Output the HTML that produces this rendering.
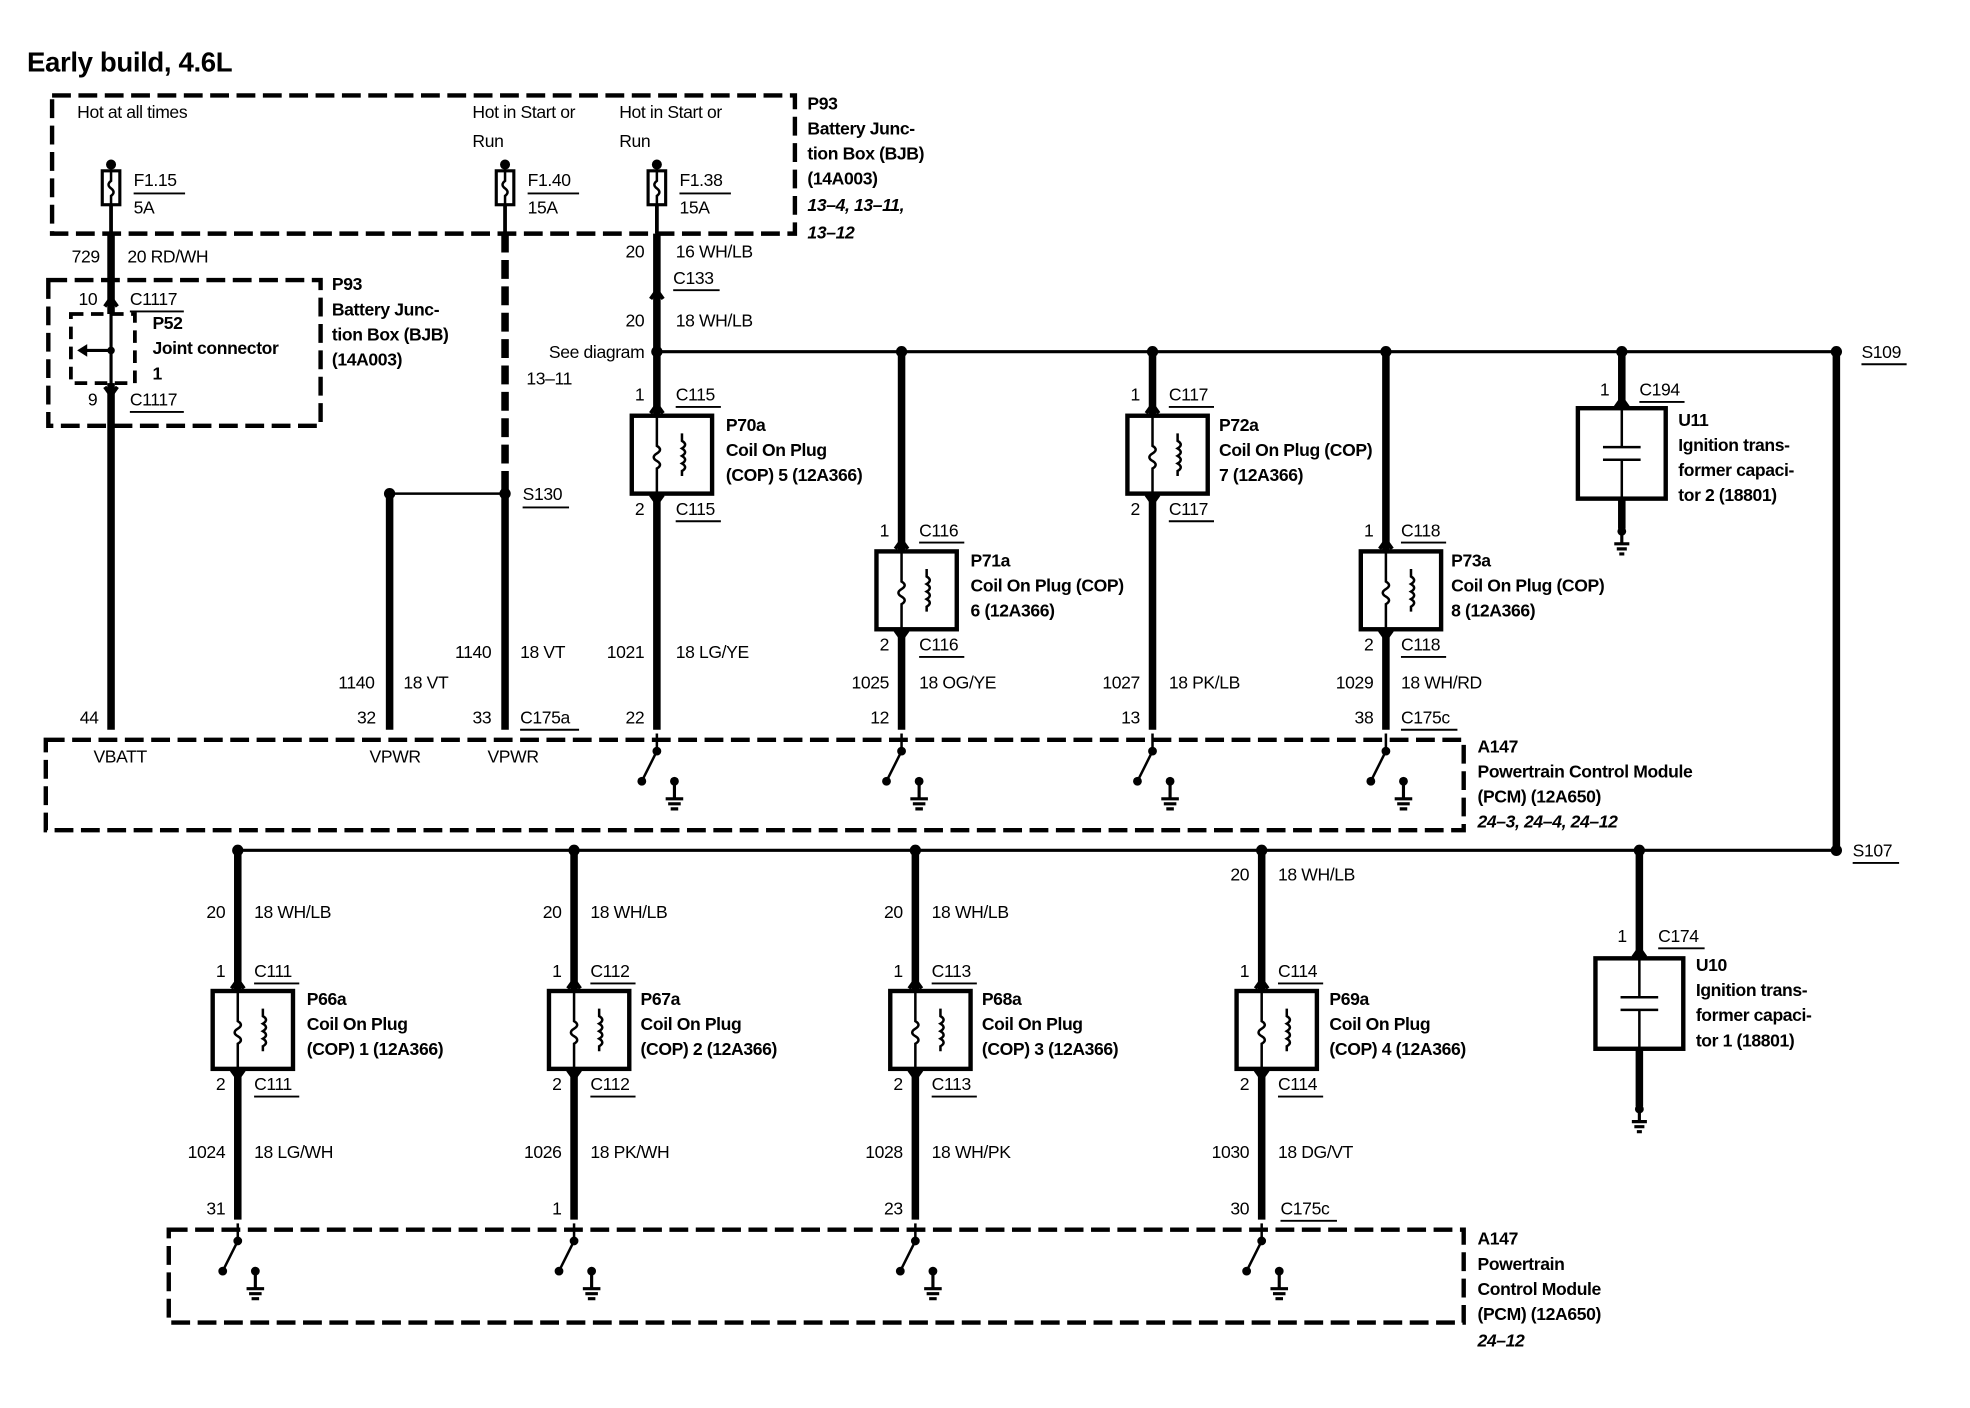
<!DOCTYPE html>
<html><head><meta charset="utf-8"><style>
html,body{margin:0;padding:0;background:#fff;}
svg{display:block;}
text{font-family:"Liberation Sans",Arial,sans-serif;font-size:14px;letter-spacing:-0.3px;fill:#000;}
.b{font-weight:bold;}
.i{font-weight:bold;font-style:italic;}
.r{text-anchor:end;}
</style></head><body>
<svg width="1970" height="1408" viewBox="-1.5 -1 1570 1121" preserveAspectRatio="none" xmlns="http://www.w3.org/2000/svg">
<defs>
<g id="cop">
 <rect x="-20" y="0" width="64" height="62" fill="#fff" stroke="#000" stroke-width="3.5"/>
 <path d="M0 0 V24 q5 3 0 6 q-5 3 0 6 q5 3 0 6 V62" fill="none" stroke="#000" stroke-width="2"/>
 <path d="M20 14 V20 q5 3 0 6 q5 3 0 6 q5 3 0 6 q5 3 0 6 V48" fill="none" stroke="#000" stroke-width="2"/>
</g>
<g id="cap">
 <rect x="-35" y="0" width="70" height="72" fill="#fff" stroke="#000" stroke-width="3.5"/>
 <path d="M0 0 V31 M-15 31 H15 M-15 41 H15 M0 41 V72" fill="none" stroke="#000" stroke-width="2"/>
</g>
<g id="gnd">
 <circle cx="0" cy="0" r="3.5"/>
 <path d="M0 0 V10 M-6 10 H6 M-4 14 H4 M-2 18 H2" fill="none" stroke="#000" stroke-width="2.5"/>
</g>
<g id="sw">
 <path d="M0 0 V14 L-12 38" fill="none" stroke="#000" stroke-width="2"/>
 <circle cx="0" cy="14" r="3.5"/><circle cx="-12" cy="38" r="3.5"/>
 <circle cx="14" cy="38" r="3.5"/>
 <path d="M14 38 V52 M7 52 H21 M9 56 H19 M11 60 H17" fill="none" stroke="#000" stroke-width="2.5"/>
</g>
<path id="up" d="M-5 5 L0 -2 L5 5" fill="none" stroke="#000" stroke-width="3"/>
<path id="dn" d="M-5 -5 L0 2 L5 -5" fill="none" stroke="#000" stroke-width="3"/>
<g id="fuse">
 <circle cx="0" cy="-5" r="4"/>
 <rect x="-7" y="0" width="14" height="27" fill="#fff" stroke="#000" stroke-width="2.5"/>
 <path d="M0 -5 V8 q-4 3 0 6 q4 3 0 6 V27" fill="none" stroke="#000" stroke-width="2"/>
</g>
</defs>

<text x="20" y="56" class="b" style="font-size:22px">Early build, 4.6L</text>

<rect x="40" y="75" width="592" height="110" fill="none" stroke="#000" stroke-width="3.5" stroke-dasharray="15 6"/>
<text x="60" y="93">Hot at all times</text>
<text x="375" y="93">Hot in Start or</text><text x="375" y="116">Run</text>
<text x="492" y="93">Hot in Start or</text><text x="492" y="116">Run</text>
<text x="642" y="86" class="b">P93</text>
<text x="642" y="106" class="b">Battery Junc-</text>
<text x="642" y="126" class="b">tion Box (BJB)</text>
<text x="642" y="146" class="b">(14A003)</text>
<text x="642" y="167" class="i">13–4, 13–11,</text>
<text x="642" y="189" class="i">13–12</text>

<use href="#fuse" x="87" y="135"/><use href="#fuse" x="401" y="135"/><use href="#fuse" x="522" y="135"/>
<text x="105" y="147">F1.15</text><line x1="105" y1="153" x2="146" y2="153" stroke="#000" stroke-width="1.5"/><text x="105" y="169">5A</text>
<text x="419" y="147">F1.40</text><line x1="419" y1="153" x2="460" y2="153" stroke="#000" stroke-width="1.5"/><text x="419" y="169">15A</text>
<text x="540" y="147">F1.38</text><line x1="540" y1="153" x2="581" y2="153" stroke="#000" stroke-width="1.5"/><text x="540" y="169">15A</text>

<line x1="87" y1="162" x2="87" y2="185" stroke="#000" stroke-width="3"/>
<line x1="87" y1="185" x2="87" y2="580" stroke="#000" stroke-width="6"/>
<text x="78" y="208" class="r">729</text><text x="100" y="208">20 RD/WH</text>
<rect x="37" y="222" width="217" height="116" fill="none" stroke="#000" stroke-width="3.5" stroke-dasharray="15 6"/>
<rect x="55" y="249" width="51" height="55" fill="#fff" stroke="#000" stroke-width="3" stroke-dasharray="10 6"/>
<line x1="87" y1="236" x2="87" y2="320" stroke="#000" stroke-width="2.5"/>
<use href="#up" x="87" y="238"/><use href="#dn" x="87" y="312"/>
<line x1="87" y1="278" x2="66" y2="278" stroke="#000" stroke-width="2.5"/>
<path d="M60 278 L68 273 L68 283 Z"/><circle cx="87" cy="278" r="3"/>
<text x="76" y="242" class="r">10</text><text x="102" y="242">C1117</text><line x1="102" y1="247" x2="145" y2="247" stroke="#000" stroke-width="1.5"/>
<text x="120" y="261" class="b">P52</text><text x="120" y="281" class="b">Joint connector</text><text x="120" y="301" class="b">1</text>
<text x="76" y="322" class="r">9</text><text x="102" y="322">C1117</text><line x1="102" y1="327" x2="145" y2="327" stroke="#000" stroke-width="1.5"/>
<text x="263" y="230" class="b">P93</text><text x="263" y="250" class="b">Battery Junc-</text><text x="263" y="270" class="b">tion Box (BJB)</text><text x="263" y="290" class="b">(14A003)</text>

<line x1="401" y1="162" x2="401" y2="185" stroke="#000" stroke-width="3"/>
<line x1="401" y1="185" x2="401" y2="390" stroke="#000" stroke-width="6" stroke-dasharray="15 6"/>
<line x1="401" y1="392" x2="401" y2="580" stroke="#000" stroke-width="6"/>
<line x1="309" y1="392" x2="401" y2="392" stroke="#000" stroke-width="2"/>
<circle cx="401" cy="392" r="4.5"/><circle cx="309" cy="392" r="4.5"/>
<line x1="309" y1="392" x2="309" y2="580" stroke="#000" stroke-width="6"/>
<text x="415" y="397">S130</text><line x1="415" y1="403" x2="452" y2="403" stroke="#000" stroke-width="1.5"/>
<text x="390" y="523" class="r">1140</text><text x="413" y="523">18 VT</text>
<text x="297" y="547" class="r">1140</text><text x="320" y="547">18 VT</text>
<text x="77" y="575" class="r">44</text>
<text x="298" y="575" class="r">32</text>
<text x="390" y="575" class="r">33</text><text x="413" y="575">C175a</text><line x1="413" y1="580" x2="460" y2="580" stroke="#000" stroke-width="1.5"/>
<text x="73" y="606">VBATT</text><text x="293" y="606">VPWR</text><text x="387" y="606">VPWR</text>

<line x1="522" y1="162" x2="522" y2="185" stroke="#000" stroke-width="3"/>
<line x1="522" y1="185" x2="522" y2="330" stroke="#000" stroke-width="6"/>
<use href="#up" x="522" y="232"/>
<text x="512" y="204" class="r">20</text><text x="537" y="204">16 WH/LB</text>
<text x="535" y="225">C133</text><line x1="535" y1="230" x2="572" y2="230" stroke="#000" stroke-width="1.5"/>
<text x="512" y="259" class="r">20</text><text x="537" y="259">18 WH/LB</text>
<text x="512" y="284" class="r">See diagram</text><text x="418" y="305">13–11</text>

<line x1="522" y1="279" x2="1462" y2="279" stroke="#000" stroke-width="2.5"/>
<circle cx="522" cy="279" r="4.5"/><circle cx="717" cy="279" r="4.5"/><circle cx="917" cy="279" r="4.5"/><circle cx="1103" cy="279" r="4.5"/><circle cx="1291" cy="279" r="4.5"/><circle cx="1462" cy="279" r="4.5"/>
<text x="1482" y="284">S109</text><line x1="1482" y1="289" x2="1518" y2="289" stroke="#000" stroke-width="1.5"/>
<line x1="1462" y1="279" x2="1462" y2="676" stroke="#000" stroke-width="6"/>

<use href="#up" x="522" y="323"/><use href="#cop" x="522" y="330"/><use href="#dn" x="522" y="398"/>
<line x1="522" y1="392" x2="522" y2="580" stroke="#000" stroke-width="6"/>
<text x="512" y="318" class="r">1</text><text x="537" y="318">C115</text><line x1="537" y1="323" x2="573" y2="323" stroke="#000" stroke-width="1.5"/>
<text x="577" y="342" class="b">P70a</text><text x="577" y="362" class="b">Coil On Plug</text><text x="577" y="382" class="b">(COP) 5 (12A366)</text>
<text x="512" y="409" class="r">2</text><text x="537" y="409">C115</text><line x1="537" y1="414" x2="573" y2="414" stroke="#000" stroke-width="1.5"/>
<text x="512" y="523" class="r">1021</text><text x="537" y="523">18 LG/YE</text>
<text x="512" y="575" class="r">22</text>

<line x1="717" y1="279" x2="717" y2="438" stroke="#000" stroke-width="6"/>
<use href="#up" x="717" y="431"/><use href="#cop" x="717" y="438"/><use href="#dn" x="717" y="506"/>
<line x1="717" y1="500" x2="717" y2="580" stroke="#000" stroke-width="6"/>
<text x="707" y="426" class="r">1</text><text x="731" y="426">C116</text><line x1="731" y1="431" x2="767" y2="431" stroke="#000" stroke-width="1.5"/>
<text x="772" y="450" class="b">P71a</text><text x="772" y="470" class="b">Coil On Plug (COP)</text><text x="772" y="490" class="b">6 (12A366)</text>
<text x="707" y="517" class="r">2</text><text x="731" y="517">C116</text><line x1="731" y1="522" x2="767" y2="522" stroke="#000" stroke-width="1.5"/>
<text x="707" y="547" class="r">1025</text><text x="731" y="547">18 OG/YE</text>
<text x="707" y="575" class="r">12</text>

<line x1="917" y1="279" x2="917" y2="330" stroke="#000" stroke-width="6"/>
<use href="#up" x="917" y="323"/><use href="#cop" x="917" y="330"/><use href="#dn" x="917" y="398"/>
<line x1="917" y1="392" x2="917" y2="580" stroke="#000" stroke-width="6"/>
<text x="907" y="318" class="r">1</text><text x="930" y="318">C117</text><line x1="930" y1="323" x2="966" y2="323" stroke="#000" stroke-width="1.5"/>
<text x="970" y="342" class="b">P72a</text><text x="970" y="362" class="b">Coil On Plug (COP)</text><text x="970" y="382" class="b">7 (12A366)</text>
<text x="907" y="409" class="r">2</text><text x="930" y="409">C117</text><line x1="930" y1="414" x2="966" y2="414" stroke="#000" stroke-width="1.5"/>
<text x="907" y="547" class="r">1027</text><text x="930" y="547">18 PK/LB</text>
<text x="907" y="575" class="r">13</text>

<line x1="1103" y1="279" x2="1103" y2="438" stroke="#000" stroke-width="6"/>
<use href="#up" x="1103" y="431"/><use href="#cop" x="1103" y="438"/><use href="#dn" x="1103" y="506"/>
<line x1="1103" y1="500" x2="1103" y2="580" stroke="#000" stroke-width="6"/>
<text x="1093" y="426" class="r">1</text><text x="1115" y="426">C118</text><line x1="1115" y1="431" x2="1151" y2="431" stroke="#000" stroke-width="1.5"/>
<text x="1155" y="450" class="b">P73a</text><text x="1155" y="470" class="b">Coil On Plug (COP)</text><text x="1155" y="490" class="b">8 (12A366)</text>
<text x="1093" y="517" class="r">2</text><text x="1115" y="517">C118</text><line x1="1115" y1="522" x2="1151" y2="522" stroke="#000" stroke-width="1.5"/>
<text x="1093" y="547" class="r">1029</text><text x="1115" y="547">18 WH/RD</text>
<text x="1093" y="575" class="r">38</text><text x="1115" y="575">C175c</text><line x1="1115" y1="580" x2="1160" y2="580" stroke="#000" stroke-width="1.5"/>

<line x1="1291" y1="279" x2="1291" y2="324" stroke="#000" stroke-width="6"/>
<use href="#up" x="1291" y="318"/><use href="#cap" x="1291" y="324"/>
<line x1="1291" y1="396" x2="1291" y2="420" stroke="#000" stroke-width="6"/>
<use href="#gnd" x="1291" y="422"/>
<text x="1281" y="314" class="r">1</text><text x="1305" y="314">C194</text><line x1="1305" y1="319" x2="1341" y2="319" stroke="#000" stroke-width="1.5"/>
<text x="1336" y="338" class="b">U11</text><text x="1336" y="358" class="b">Ignition trans-</text><text x="1336" y="378" class="b">former capaci-</text><text x="1336" y="398" class="b">tor 2 (18801)</text>

<rect x="35" y="588" width="1130" height="72" fill="none" stroke="#000" stroke-width="3.5" stroke-dasharray="15 6"/>
<use href="#sw" x="522" y="583"/><use href="#sw" x="717" y="583"/><use href="#sw" x="917" y="583"/><use href="#sw" x="1103" y="583"/>
<text x="1176" y="598" class="b">A147</text><text x="1176" y="618" class="b">Powertrain Control Module</text><text x="1176" y="638" class="b">(PCM) (12A650)</text><text x="1176" y="658" class="i">24–3, 24–4, 24–12</text>

<line x1="188" y1="676" x2="1462" y2="676" stroke="#000" stroke-width="2.5"/>
<circle cx="188" cy="676" r="4.5"/><circle cx="456" cy="676" r="4.5"/><circle cx="728" cy="676" r="4.5"/><circle cx="1004" cy="676" r="4.5"/><circle cx="1305" cy="676" r="4.5"/><circle cx="1462" cy="676" r="4.5"/>
<text x="1475" y="681">S107</text><line x1="1475" y1="686" x2="1512" y2="686" stroke="#000" stroke-width="1.5"/>

<g>
<line x1="188" y1="676" x2="188" y2="970" stroke="#000" stroke-width="6"/>
<line x1="456" y1="676" x2="456" y2="970" stroke="#000" stroke-width="6"/>
<line x1="728" y1="676" x2="728" y2="970" stroke="#000" stroke-width="6"/>
<line x1="1004" y1="676" x2="1004" y2="970" stroke="#000" stroke-width="6"/>
<use href="#up" x="188" y="781"/><use href="#cop" x="188" y="788"/><use href="#dn" x="188" y="856"/>
<use href="#up" x="456" y="781"/><use href="#cop" x="456" y="788"/><use href="#dn" x="456" y="856"/>
<use href="#up" x="728" y="781"/><use href="#cop" x="728" y="788"/><use href="#dn" x="728" y="856"/>
<use href="#up" x="1004" y="781"/><use href="#cop" x="1004" y="788"/><use href="#dn" x="1004" y="856"/>
</g>
<text x="178" y="730" class="r">20</text><text x="201" y="730">18 WH/LB</text>
<text x="446" y="730" class="r">20</text><text x="469" y="730">18 WH/LB</text>
<text x="718" y="730" class="r">20</text><text x="741" y="730">18 WH/LB</text>
<text x="994" y="700" class="r">20</text><text x="1017" y="700">18 WH/LB</text>

<text x="178" y="777" class="r">1</text><text x="201" y="777">C111</text><line x1="201" y1="782" x2="237" y2="782" stroke="#000" stroke-width="1.5"/>
<text x="446" y="777" class="r">1</text><text x="469" y="777">C112</text><line x1="469" y1="782" x2="505" y2="782" stroke="#000" stroke-width="1.5"/>
<text x="718" y="777" class="r">1</text><text x="741" y="777">C113</text><line x1="741" y1="782" x2="777" y2="782" stroke="#000" stroke-width="1.5"/>
<text x="994" y="777" class="r">1</text><text x="1017" y="777">C114</text><line x1="1017" y1="782" x2="1053" y2="782" stroke="#000" stroke-width="1.5"/>

<text x="243" y="799" class="b">P66a</text><text x="243" y="819" class="b">Coil On Plug</text><text x="243" y="839" class="b">(COP) 1 (12A366)</text>
<text x="509" y="799" class="b">P67a</text><text x="509" y="819" class="b">Coil On Plug</text><text x="509" y="839" class="b">(COP) 2 (12A366)</text>
<text x="781" y="799" class="b">P68a</text><text x="781" y="819" class="b">Coil On Plug</text><text x="781" y="839" class="b">(COP) 3 (12A366)</text>
<text x="1058" y="799" class="b">P69a</text><text x="1058" y="819" class="b">Coil On Plug</text><text x="1058" y="839" class="b">(COP) 4 (12A366)</text>

<text x="178" y="867" class="r">2</text><text x="201" y="867">C111</text><line x1="201" y1="872" x2="237" y2="872" stroke="#000" stroke-width="1.5"/>
<text x="446" y="867" class="r">2</text><text x="469" y="867">C112</text><line x1="469" y1="872" x2="505" y2="872" stroke="#000" stroke-width="1.5"/>
<text x="718" y="867" class="r">2</text><text x="741" y="867">C113</text><line x1="741" y1="872" x2="777" y2="872" stroke="#000" stroke-width="1.5"/>
<text x="994" y="867" class="r">2</text><text x="1017" y="867">C114</text><line x1="1017" y1="872" x2="1053" y2="872" stroke="#000" stroke-width="1.5"/>

<text x="178" y="921" class="r">1024</text><text x="201" y="921">18 LG/WH</text>
<text x="446" y="921" class="r">1026</text><text x="469" y="921">18 PK/WH</text>
<text x="718" y="921" class="r">1028</text><text x="741" y="921">18 WH/PK</text>
<text x="994" y="921" class="r">1030</text><text x="1017" y="921">18 DG/VT</text>

<text x="178" y="966" class="r">31</text>
<text x="446" y="966" class="r">1</text>
<text x="718" y="966" class="r">23</text>
<text x="994" y="966" class="r">30</text><text x="1019" y="966">C175c</text><line x1="1019" y1="971" x2="1064" y2="971" stroke="#000" stroke-width="1.5"/>

<line x1="1305" y1="676" x2="1305" y2="762" stroke="#000" stroke-width="6"/>
<use href="#up" x="1305" y="756"/><use href="#cap" x="1305" y="762"/>
<line x1="1305" y1="834" x2="1305" y2="880" stroke="#000" stroke-width="6"/>
<use href="#gnd" x="1305" y="882"/>
<text x="1295" y="749" class="r">1</text><text x="1320" y="749">C174</text><line x1="1320" y1="754" x2="1357" y2="754" stroke="#000" stroke-width="1.5"/>
<text x="1350" y="772" class="b">U10</text><text x="1350" y="792" class="b">Ignition trans-</text><text x="1350" y="812" class="b">former capaci-</text><text x="1350" y="832" class="b">tor 1 (18801)</text>

<rect x="133" y="978" width="1032" height="74" fill="none" stroke="#000" stroke-width="3.5" stroke-dasharray="15 6"/>
<use href="#sw" x="188" y="973"/><use href="#sw" x="456" y="973"/><use href="#sw" x="728" y="973"/><use href="#sw" x="1004" y="973"/>
<text x="1176" y="990" class="b">A147</text><text x="1176" y="1010" class="b">Powertrain</text><text x="1176" y="1030" class="b">Control Module</text><text x="1176" y="1050" class="b">(PCM) (12A650)</text><text x="1176" y="1071" class="i">24–12</text>
</svg>
</body></html>
